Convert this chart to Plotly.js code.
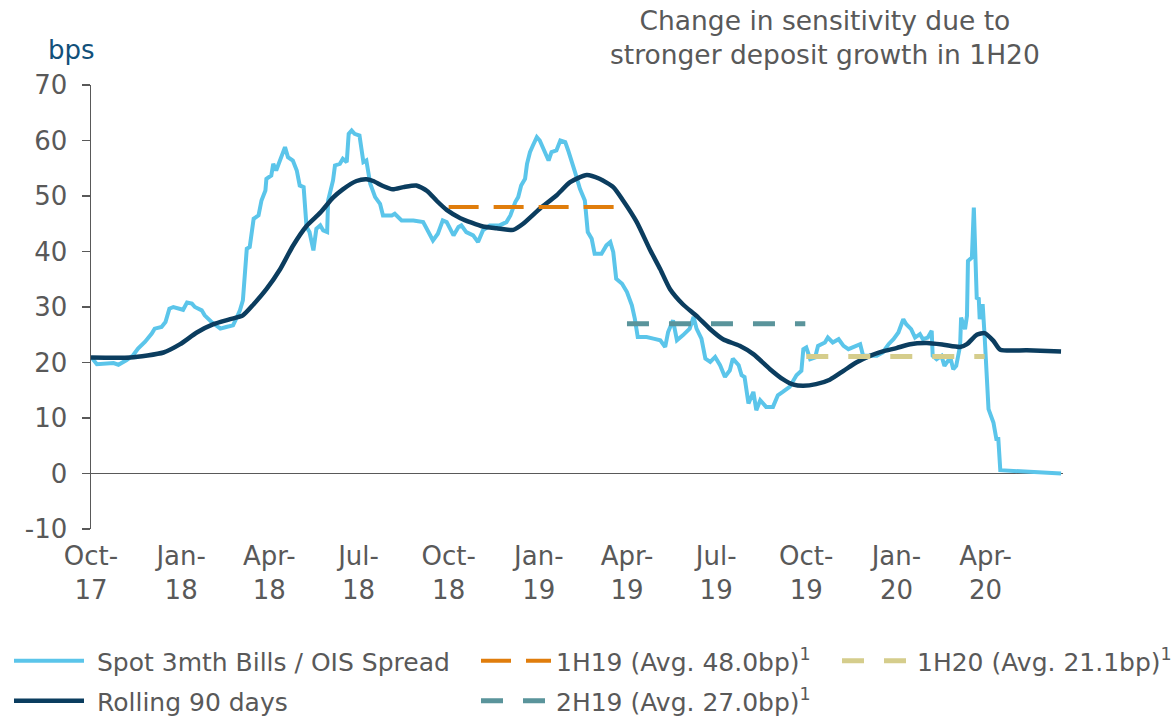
<!DOCTYPE html>
<html>
<head>
<meta charset="utf-8">
<script src="https://cdn.plot.ly/plotly-3.0.1.min.js"></script>
<style>html,body{margin:0;padding:0;background:#fff;}#chart{width:1175px;height:716px;}</style>
</head>
<body>
<div id="chart"></div>
<script>
// ---- Data ----
const spotDates = ["2017-10-01","2017-10-07","2017-10-24","2017-10-29","2017-11-06","2017-11-13","2017-11-18","2017-11-25","2017-12-02","2017-12-05","2017-12-12","2017-12-16","2017-12-20","2017-12-24","2018-01-03","2018-01-07","2018-01-12","2018-01-15","2018-01-22","2018-01-25","2018-02-01","2018-02-10","2018-02-16","2018-02-23","2018-02-27","2018-03-02","2018-03-05","2018-03-07","2018-03-09","2018-03-12","2018-03-16","2018-03-21","2018-03-24","2018-03-28","2018-03-29","2018-04-03","2018-04-05","2018-04-08","2018-04-12","2018-04-17","2018-04-20","2018-04-25","2018-04-29","2018-05-02","2018-05-06","2018-05-09","2018-05-12","2018-05-16","2018-05-19","2018-05-23","2018-05-26","2018-05-30","2018-05-31","2018-06-05","2018-06-07","2018-06-12","2018-06-15","2018-06-19","2018-06-21","2018-06-24","2018-06-27","2018-07-02","2018-07-06","2018-07-09","2018-07-13","2018-07-18","2018-07-23","2018-07-26","2018-08-04","2018-08-07","2018-08-14","2018-08-26","2018-09-05","2018-09-09","2018-09-12","2018-09-15","2018-09-20","2018-09-25","2018-09-29","2018-10-06","2018-10-11","2018-10-14","2018-10-19","2018-10-26","2018-10-31","2018-11-05","2018-11-12","2018-11-22","2018-11-29","2018-12-03","2018-12-08","2018-12-11","2018-12-14","2018-12-18","2018-12-20","2018-12-23","2018-12-26","2018-12-30","2019-01-02","2019-01-06","2019-01-11","2019-01-14","2019-01-19","2019-01-23","2019-01-28","2019-01-31","2019-02-04","2019-02-07","2019-02-12","2019-02-17","2019-02-20","2019-02-24","2019-02-27","2019-03-06","2019-03-11","2019-03-15","2019-03-18","2019-03-21","2019-03-27","2019-04-01","2019-04-06","2019-04-09","2019-04-12","2019-04-21","2019-04-28","2019-05-05","2019-05-10","2019-05-13","2019-05-18","2019-05-22","2019-05-28","2019-06-04","2019-06-08","2019-06-11","2019-06-16","2019-06-20","2019-06-25","2019-06-30","2019-07-05","2019-07-10","2019-07-15","2019-07-18","2019-07-24","2019-07-27","2019-07-30","2019-08-03","2019-08-08","2019-08-11","2019-08-15","2019-08-21","2019-08-28","2019-09-02","2019-09-07","2019-09-14","2019-09-21","2019-09-26","2019-09-28","2019-10-01","2019-10-05","2019-10-10","2019-10-13","2019-10-20","2019-10-23","2019-10-28","2019-11-03","2019-11-08","2019-11-13","2019-11-20","2019-11-25","2019-11-28","2019-12-05","2019-12-12","2019-12-18","2019-12-24","2019-12-29","2020-01-03","2020-01-08","2020-01-11","2020-01-16","2020-01-20","2020-01-25","2020-01-28","2020-02-02","2020-02-06","2020-02-07","2020-02-11","2020-02-16","2020-02-19","2020-02-25","2020-02-28","2020-03-02","2020-03-06","2020-03-07","2020-03-11","2020-03-13","2020-03-14","2020-03-18","2020-03-20","2020-03-23","2020-03-25","2020-03-26","2020-03-29","2020-03-31","2020-04-04","2020-04-09","2020-04-12","2020-04-14","2020-04-16","2020-06-17"];
const spotValues = [21.0,19.7,19.9,19.6,20.4,21.3,22.5,23.7,25.2,26.1,26.4,27.3,29.7,30.0,29.5,30.8,30.6,30.0,29.4,28.5,27.3,26.1,26.4,26.7,28.2,29.4,31.2,36.0,40.5,40.8,45.9,46.5,49.2,51.0,53.1,53.7,55.8,54.6,56.4,58.8,57.0,56.4,54.6,51.9,51.6,44.4,43.5,40.2,44.1,44.7,43.8,43.5,49.2,52.8,55.5,55.8,56.7,56.1,61.2,61.8,61.2,60.9,56.1,56.4,52.2,49.8,48.6,46.5,46.5,46.8,45.6,45.6,45.3,44.1,43.2,42.0,43.2,45.6,45.3,42.9,44.4,44.7,43.5,42.9,41.7,43.8,44.7,44.7,45.3,46.5,48.9,49.8,51.9,53.1,55.8,57.9,59.1,60.6,60.0,58.5,56.4,57.9,58.2,60.0,59.7,58.2,56.1,54.3,51.3,49.2,43.5,42.3,39.6,39.6,41.1,41.7,39.9,35.1,34.2,32.7,30.3,27.9,24.6,24.6,24.3,24.0,22.8,25.5,27.6,24.0,24.9,26.1,28.2,26.1,24.3,20.7,20.1,21.0,19.5,17.4,18.6,20.7,19.5,17.7,17.4,12.6,14.7,11.4,13.2,12.0,12.0,14.1,14.7,15.6,17.7,18.5,22.4,22.7,20.6,20.9,23.0,23.6,24.5,23.6,24.2,23.0,22.4,23.0,23.3,21.2,21.2,21.2,21.8,23.3,24.2,25.4,27.8,26.9,26.0,24.5,25.1,24.2,24.5,25.7,21.2,20.6,21.2,19.4,20.9,18.8,19.4,23.0,28.1,26.0,28.4,38.3,38.9,47.9,31.4,31.7,27.8,30.5,24.8,11.6,9.2,6.2,6.2,0.6,0.0];

const rollDates = ["2017-10-01","2017-11-10","2017-12-14","2017-12-31","2018-01-17","2018-02-03","2018-02-20","2018-03-05","2018-03-16","2018-03-29","2018-04-12","2018-04-25","2018-05-09","2018-05-23","2018-06-05","2018-06-15","2018-06-29","2018-07-09","2018-07-16","2018-07-26","2018-08-05","2018-08-16","2018-08-29","2018-09-09","2018-09-19","2018-09-29","2018-10-13","2018-11-05","2018-11-19","2018-12-06","2018-12-16","2019-01-02","2019-01-19","2019-02-02","2019-02-19","2019-03-04","2019-03-18","2019-03-28","2019-04-11","2019-04-24","2019-05-05","2019-05-15","2019-05-28","2019-06-11","2019-06-25","2019-07-08","2019-07-25","2019-08-08","2019-08-25","2019-09-07","2019-09-18","2019-09-28","2019-10-11","2019-10-25","2019-11-08","2019-11-21","2019-12-05","2019-12-18","2020-01-01","2020-01-15","2020-02-01","2020-02-18","2020-03-06","2020-03-13","2020-03-23","2020-03-31","2020-04-09","2020-04-16","2020-05-13","2020-06-17"];
const rollValues = [20.9,20.9,21.8,23.3,25.4,26.9,27.8,28.5,30.5,33.2,36.8,41.0,44.6,47.0,49.7,51.2,52.7,53.0,52.7,51.8,51.2,51.6,51.9,50.9,49.1,47.5,46.0,44.5,44.2,43.9,45.0,47.7,50.1,52.5,53.8,53.1,51.6,49.2,45.3,40.5,36.8,33.2,30.5,28.4,26.0,24.2,23.0,21.5,18.8,17.0,16.0,15.8,16.1,16.9,18.5,20.0,21.2,22.0,22.6,23.3,23.5,23.2,22.8,23.3,25.0,25.3,23.9,22.3,22.2,22.0];

const halfLabels = ["1H19","2H19","1H20"];
const halfStarts = ["2018-10-01","2019-04-01","2019-10-01"];
const halfEnds   = ["2019-03-31","2019-09-30","2020-03-31"];
const halfAvgs   = [48.0, 27.0, 21.1];

const tickDates = ["2017-10-01","2018-01-01","2018-04-01","2018-07-01","2018-10-01","2019-01-01","2019-04-01","2019-07-01","2019-10-01","2020-01-01","2020-04-01"];
const tickLabels = ["Oct-<br>17","Jan-<br>18","Apr-<br>18","Jul-<br>18","Oct-<br>18","Jan-<br>19","Apr-<br>19","Jul-<br>19","Oct-<br>19","Jan-<br>20","Apr-<br>20"];
const yTicks = [-10,0,10,20,30,40,50,60,70];
const yTickLabels = ["-10","0","10","20","30","40","50","60","70"];
const titleText = "Change in sensitivity due to<br>stronger deposit growth in 1H20";
const unitText = "bps";
const spotName = "Spot 3mth Bills / OIS Spread";
const rollName = "Rolling 90 days";

// ---- Styling ----
const FONT = "DejaVu Sans, Verdana, sans-serif";
const GREY = "#595959";
const NBSP = "\u00A0";
const halfColors = ["#E07D0C","#5A949B","#D5CD8C"];
const halfDash = ["30px,15px","22px,20px","22px,20px"];
const halfWidth = [4,5,5];
const halfLegends = ["legend3","legend4","legend5"];

const traces = [
  {x: spotDates, y: spotValues, type: "scatter", mode: "lines", name: NBSP + spotName,
   line: {color: "#5BC5EA", width: 4}, legend: "legend"},
  {x: rollDates, y: rollValues, type: "scatter", mode: "lines", name: NBSP + rollName,
   line: {color: "#0B3D5F", width: 4.5, shape: "spline", smoothing: 0.6}, legend: "legend2"}
];
halfLabels.forEach((lab, i) => {
  traces.push({
    x: [halfStarts[i], halfEnds[i]], y: [halfAvgs[i], halfAvgs[i]],
    type: "scatter", mode: "lines",
    name: lab + " (Avg. " + halfAvgs[i].toFixed(1) + "bp)<sup>1</sup>",
    line: {color: halfColors[i], width: halfWidth[i], dash: halfDash[i]},
    legend: halfLegends[i]
  });
});

function leg(xpx, ypx) {
  return {xref: "container", yref: "container", x: xpx/1175, y: 1 - ypx/716,
          xanchor: "left", yanchor: "middle", bgcolor: "rgba(0,0,0,0)",
          font: {family: FONT, size: 25, color: GREY}, itemwidth: 70};
}

// plot area: x 91..1063 px, y 85..529 px
const PL = 91, PW = 972, PB = 529, PH = 444;
const px = p => (p - PL) / PW;
const py = q => (PB - q) / PH;

const layout = {
  width: 1175, height: 716,
  margin: {l: 91, r: 112, t: 85, b: 187, autoexpand: false},
  paper_bgcolor: "#fff", plot_bgcolor: "#fff",
  font: {family: FONT, color: GREY},
  showlegend: true,
  legend: leg(9, 661),
  legend2: leg(9, 701),
  legend3: leg(476, 661),
  legend4: leg(476, 701),
  legend5: leg(837, 661),
  xaxis: {
    type: "date", range: ["2017-10-01", "2020-06-19"],
    tickvals: tickDates, ticktext: tickLabels,
    showgrid: false, showline: false, zeroline: false, ticks: "",
    tickfont: {family: FONT, size: 26, color: GREY},
    ticklabelstandoff: 9
  },
  yaxis: {
    range: [-10, 70], tickvals: yTicks, ticktext: yTickLabels,
    showgrid: false, showline: true, linecolor: GREY, linewidth: 1.5,
    ticks: "outside", ticklen: 8, tickwidth: 1.5, tickcolor: GREY,
    zeroline: true, zerolinecolor: GREY, zerolinewidth: 1.5,
    tickfont: {family: FONT, size: 26, color: GREY},
    ticklabelstandoff: 9
  },
  annotations: [
    {xref: "paper", yref: "paper", x: px(825), y: py(37.5),
     xanchor: "center", yanchor: "middle", showarrow: false, align: "center",
     text: titleText, font: {family: FONT, size: 26.5, color: GREY}},
    {xref: "paper", yref: "paper", x: px(71.5), y: py(50),
     xanchor: "center", yanchor: "middle", showarrow: false,
     text: unitText, font: {family: FONT, size: 26, color: "#12507A"}}
  ]
};

Plotly.newPlot("chart", traces, layout, {displayModeBar: false, staticPlot: true});
</script>
</body>
</html>
